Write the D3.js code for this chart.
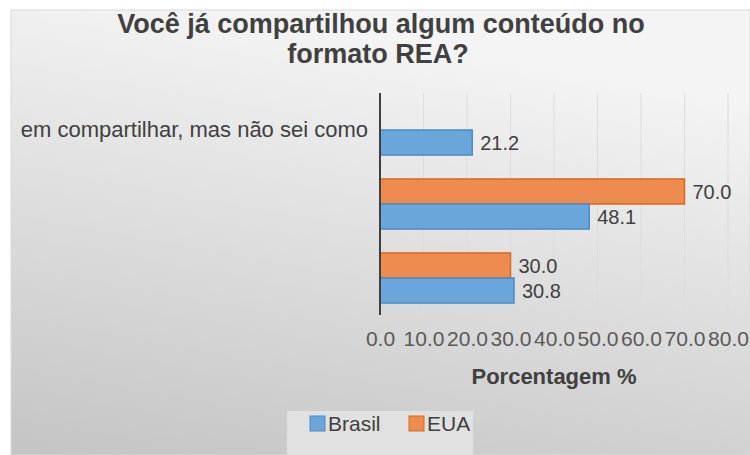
<!DOCTYPE html>
<html>
<head>
<meta charset="utf-8">
<script src="https://cdn.jsdelivr.net/npm/d3@7"></script>
<style>
    body { margin: 0; background: #ffffff; }
    text { font-family: "Liberation Sans", Arial, sans-serif; }
</style>
</head>
<body>
<div id="chart"></div>
<script>
// Data
var categories = ["interesse", "nao", "sim"];
var categoryLabels = ["Tenho interesse em compartilhar, mas não sei como", "", ""];
var seriesNames = ["EUA", "Brasil"];
var euaValues = [0.0, 70.0, 30.0];
var brasilValues = [21.2, 48.1, 30.8];
var xTicks = [0, 10, 20, 30, 40, 50, 60, 70, 80];

var colors = { "Brasil": "#6ba6da", "EUA": "#ee8b4e" };
var strokes = { "Brasil": "#4a89c8", "EUA": "#d8691f" };

var svgWidth = 750;
var svgHeight = 455;

var svg = d3.select("#chart")
    .append("svg")
    .attr("width", svgWidth)
    .attr("height", svgHeight);

// background panel with gradient
var defs = svg.append("defs");
var grad = defs.append("linearGradient")
    .attr("id", "bg")
    .attr("x1", "0.3").attr("y1", "0")
    .attr("x2", "0").attr("y2", "1");
grad.append("stop").attr("offset", "0%").attr("stop-color", "#f4f4f4");
grad.append("stop").attr("offset", "100%").attr("stop-color", "#c4c4c4");

defs.append("clipPath")
    .attr("id", "panelClip")
    .append("rect")
    .attr("x", 12).attr("y", 10)
    .attr("width", svgWidth - 12).attr("height", svgHeight - 10);

// the long category label gets cut a little inside the panel edge
defs.append("clipPath")
    .attr("id", "labelClip")
    .append("rect")
    .attr("x", 16).attr("y", 10)
    .attr("width", svgWidth - 16).attr("height", svgHeight - 10);

svg.append("rect")
    .attr("x", 11).attr("y", 10)
    .attr("width", svgWidth - 11).attr("height", svgHeight - 10)
    .attr("fill", "url(#bg)")
    .attr("stroke", "#d9d9d9")
    .attr("stroke-width", 1);

var chartGroup = svg.append("g").attr("clip-path", "url(#panelClip)");

// Title
chartGroup.append("text")
    .attr("x", 381).attr("y", 33)
    .attr("text-anchor", "middle")
    .attr("font-size", 27).attr("font-weight", "bold")
    .attr("fill", "#404040")
    .text("Você já compartilhou algum conteúdo no");
chartGroup.append("text")
    .attr("x", 378).attr("y", 63)
    .attr("text-anchor", "middle")
    .attr("font-size", 27).attr("font-weight", "bold")
    .attr("fill", "#404040")
    .text("formato REA?");

// Scales
var xScale = d3.scaleLinear()
    .domain([0, 80])
    .range([380, 728]);

var yScale = d3.scaleBand()
    .domain(categories)
    .range([93, 315])
    .paddingInner(0.324)
    .paddingOuter(0.162);

var ySub = d3.scaleBand()
    .domain(seriesNames)
    .range([0, yScale.bandwidth()]);

// Gridlines
chartGroup.append("g")
    .selectAll("line")
    .data(xTicks.slice(1))
    .enter()
    .append("line")
    .attr("x1", d => xScale(d)).attr("x2", d => xScale(d))
    .attr("y1", 93).attr("y2", 315)
    .attr("stroke", "#dcdcdc")
    .attr("stroke-width", 1);

// X axis labels
var xAxis = d3.axisBottom(xScale)
    .tickValues(xTicks)
    .tickFormat(d3.format(".1f"))
    .tickSize(0)
    .tickPadding(0);

var xAxisGroup = chartGroup.append("g")
    .attr("transform", "translate(0, 331)")
    .call(xAxis);
xAxisGroup.select(".domain").remove();
xAxisGroup.selectAll("text")
    .attr("font-size", 21)
    .attr("font-family", "Liberation Sans, Arial, sans-serif")
    .attr("fill", "#595959");

// Y axis
var yAxis = d3.axisLeft(yScale)
    .tickFormat((d, i) => categoryLabels[i])
    .tickSize(0)
    .tickPadding(12);

var yAxisGroup = chartGroup.append("g")
    .attr("clip-path", "url(#labelClip)")
    .append("g")
    .attr("transform", "translate(380, 0)")
    .call(yAxis);
yAxisGroup.select(".domain").remove();
yAxisGroup.selectAll("text")
    .attr("font-size", 22)
    .attr("font-family", "Liberation Sans, Arial, sans-serif")
    .attr("fill", "#404040");

// Bars
var rows = categories.map(function (c, i) {
    return [
        { cat: c, series: "EUA", value: euaValues[i] },
        { cat: c, series: "Brasil", value: brasilValues[i] }
    ];
});
var barData = [].concat.apply([], rows);

chartGroup.append("g")
    .selectAll("rect")
    .data(barData)
    .enter()
    .append("rect")
    .attr("x", xScale(0))
    .attr("y", d => yScale(d.cat) + ySub(d.series))
    .attr("width", d => xScale(d.value) - xScale(0))
    .attr("height", ySub.bandwidth())
    .attr("fill", d => colors[d.series])
    .attr("stroke", d => strokes[d.series])
    .attr("stroke-width", 1.5);

// Data labels
chartGroup.append("g")
    .selectAll("text")
    .data(barData.filter(d => d.value > 0))
    .enter()
    .append("text")
    .attr("x", d => xScale(d.value) + 8)
    .attr("y", d => yScale(d.cat) + ySub(d.series) + ySub.bandwidth() / 2)
    .attr("dy", "0.36em")
    .attr("font-size", 20)
    .attr("fill", "#404040")
    .text(d => d3.format(".1f")(d.value));

// Vertical axis line
chartGroup.append("line")
    .attr("x1", xScale(0)).attr("x2", xScale(0))
    .attr("y1", 93).attr("y2", 315)
    .attr("stroke", "#404040")
    .attr("stroke-width", 2);

// Axis title
chartGroup.append("text")
    .attr("x", (xScale(0) + xScale(80)) / 2)
    .attr("y", 384)
    .attr("text-anchor", "middle")
    .attr("font-size", 22).attr("font-weight", "bold")
    .attr("fill", "#404040")
    .text("Porcentagem %");

// Legend
var legend = chartGroup.append("g");
legend.append("rect")
    .attr("x", 287).attr("y", 411)
    .attr("width", 186).attr("height", 60)
    .attr("fill", "#e1e1e1");

var legendItems = [
    { name: "Brasil", x: 310 },
    { name: "EUA", x: 409 }
];
var item = legend.selectAll("g.item")
    .data(legendItems)
    .enter()
    .append("g")
    .attr("class", "item")
    .attr("transform", d => `translate(${d.x}, 416)`);
item.append("rect")
    .attr("width", 15).attr("height", 15)
    .attr("fill", d => colors[d.name])
    .attr("stroke", d => strokes[d.name])
    .attr("stroke-width", 1);
item.append("text")
    .attr("x", 18).attr("y", 15)
    .attr("font-size", 21)
    .attr("fill", "#404040")
    .text(d => d.name);
</script>
</body>
</html>
